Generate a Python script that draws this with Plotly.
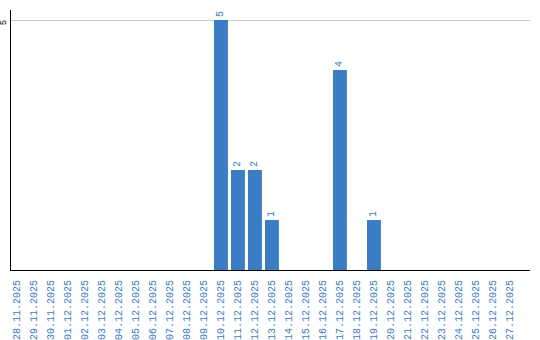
import plotly.graph_objects as go

dates = ["28.11.2025","29.11.2025","30.11.2025","01.12.2025","02.12.2025","03.12.2025",
         "04.12.2025","05.12.2025","06.12.2025","07.12.2025","08.12.2025","09.12.2025",
         "10.12.2025","11.12.2025","12.12.2025","13.12.2025","14.12.2025","15.12.2025",
         "16.12.2025","17.12.2025","18.12.2025","19.12.2025","20.12.2025","21.12.2025",
         "22.12.2025","23.12.2025","24.12.2025","25.12.2025","26.12.2025","27.12.2025"]
counts = [0,0,0,0,0,0,0,0,0,0,0,0,5,2,2,1,0,0,0,4,0,1,0,0,0,0,0,0,0,0]
labels = [str(v) if v else "" for v in counts]

BLUE = "#3a7cc3"
FONT = "Liberation Mono"

fig = go.Figure(go.Bar(
    x=dates, y=counts, text=labels, textposition="outside", textangle=-90,
    textfont=dict(family=FONT, size=10, color=BLUE),
    marker=dict(color="#3b7dc4", line=dict(width=0)),
    width=0.82, cliponaxis=False, hoverinfo="skip",
))
fig.update_layout(
    width=540, height=340, margin=dict(l=11, r=10, t=10, b=70),
    paper_bgcolor="white", plot_bgcolor="white", showlegend=False,
    font=dict(family=FONT, size=10),
)
fig.update_xaxes(type="category", range=[-0.35, 30.18], tickangle=-90,
                 tickfont=dict(family=FONT, size=10, color=BLUE),
                 showline=True, linecolor="black", linewidth=1, showgrid=False,
                 ticks="", ticklabelstandoff=5, automargin=False)
fig.update_yaxes(range=[0, 5.2], tickvals=[5], ticktext=["5"], tickangle=-90,
                 tickfont=dict(family=FONT, size=9, color="black"),
                 showline=True, linecolor="black", linewidth=1,
                 showgrid=True, gridcolor="#cccccc", gridwidth=1, zeroline=False,
                 ticks="", ticklabelstandoff=0, ticklabelshift=4, automargin=False)
fig.write_html("out.html")
